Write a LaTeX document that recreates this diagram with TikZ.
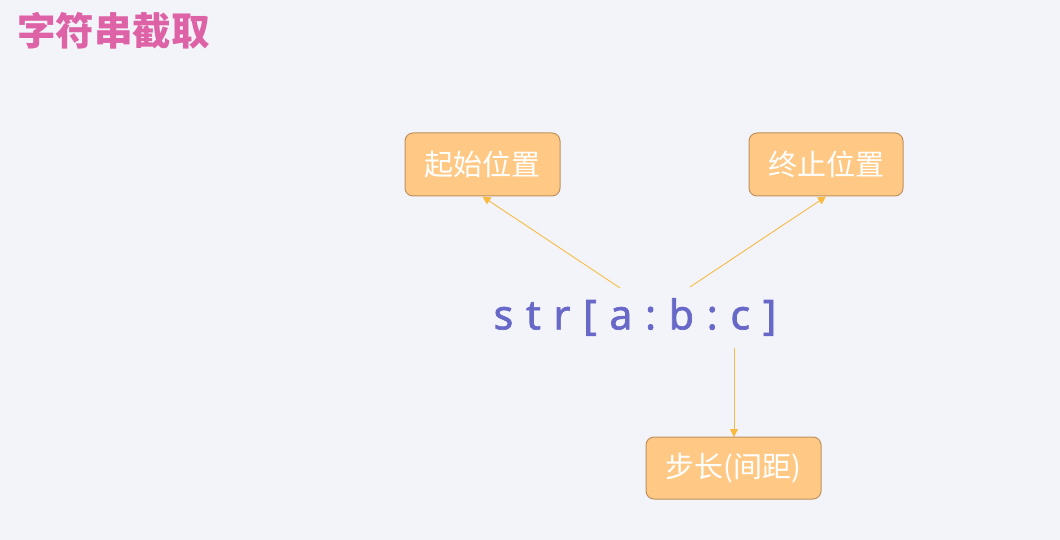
\documentclass[tikz,border=0pt]{standalone}
\usepackage{fontspec}
\setmainfont{Noto Sans CJK SC}
\newfontfamily\cjkfont{Noto Sans CJK SC}
\newfontfamily\codefont[LetterSpace=31,FakeBold=1.6]{Noto Sans}
\usetikzlibrary{arrows.meta}
\definecolor{bgc}{RGB}{243,244,250}
\definecolor{titlec}{RGB}{222,98,166}
\definecolor{boxfill}{RGB}{255,201,133}
\definecolor{boxline}{RGB}{190,145,95}
\definecolor{arrc}{RGB}{249,186,64}
\definecolor{codec}{RGB}{104,104,200}
\tikzset{
  x=1pt,y=-1pt,
  labelbox/.style={draw=boxline,line width=1pt,fill=boxfill,rounded corners=8pt,
    text=white,font=\cjkfont\fontsize{29}{32}\selectfont,inner sep=0pt},
  conn/.style={draw=arrc,line width=0.9pt,-{Triangle[length=8pt,width=8pt]}},
}
\begin{document}
\begin{tikzpicture}
\useasboundingbox[fill=bgc] (0,0) rectangle (1060,540);
\node[anchor=west,text=titlec,font=\cjkfont\bfseries\fontsize{38.5}{41}\selectfont,inner sep=0pt] (title) at (17,31) {字符串截取};
\node[labelbox,minimum width=155pt,minimum height=63pt] (start) at (482.5,164.5) {起始位置};
\node[labelbox,minimum width=154pt,minimum height=63pt] (stop) at (826,164.5) {终止位置};
\node[labelbox,minimum width=175pt,minimum height=62pt] (stepb) at (733.5,468) {步长(间距)};
\node[text=codec,font=\codefont\fontsize{41}{44}\selectfont,inner sep=0pt] (code) at (635,317) {str[a:b:c]};
\coordinate (c1) at (620,288);
\coordinate (c2) at (690,287);
\coordinate (c3) at (734,348);
\draw[conn] (c1) -- (start.south);
\draw[conn] (c2) -- (stop.south);
\draw[conn] (c3) -- (734,437);
\end{tikzpicture}
\end{document}
